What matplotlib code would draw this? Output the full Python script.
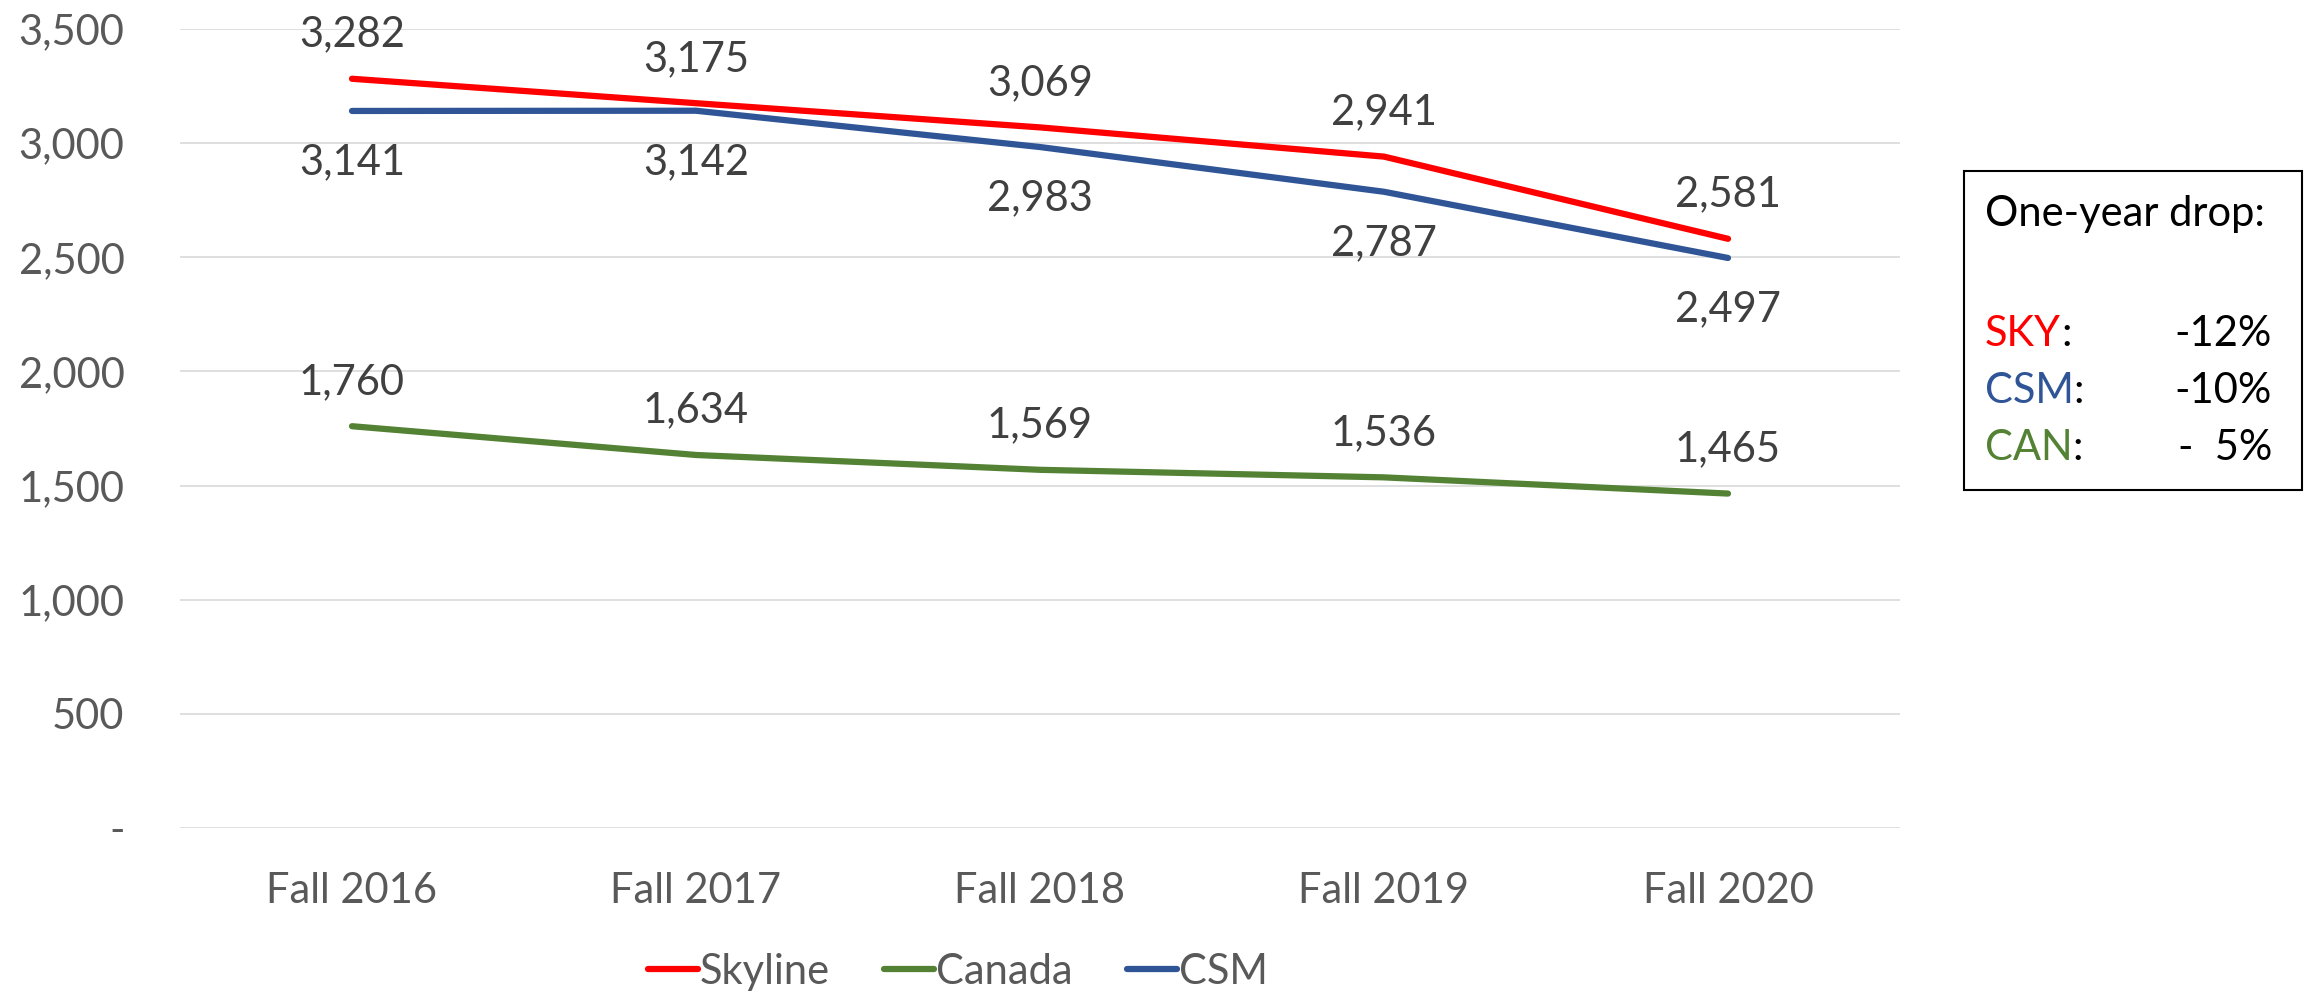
import matplotlib
matplotlib.use("Agg")
import matplotlib.pyplot as plt
from matplotlib.patches import Rectangle
from matplotlib.ticker import FuncFormatter, MultipleLocator

# ---- data ----
categories = ["Fall 2016", "Fall 2017", "Fall 2018", "Fall 2019", "Fall 2020"]
skyline = [3282, 3175, 3069, 2941, 2581]
canada = [1760, 1634, 1569, 1536, 1465]
csm = [3141, 3142, 2983, 2787, 2497]
series_names = ["Skyline", "Canada", "CSM"]
box_title = "One-year drop:"
box_codes = ["SKY", "CSM", "CAN"]
box_values = ["-12%", "-10%", "-  5%"]

RED = "#FF0000"
GREEN = "#548235"
BLUE = "#2F5597"

plt.rcParams["font.family"] = ["Lato", "DejaVu Sans"]
FS = 30

W, H = 2304, 994
fig = plt.figure(figsize=(W / 100, H / 100), dpi=100)

def fx(px):
    return px / W

def fy(py):
    return 1 - py / H

ax = fig.add_axes([fx(180), fy(828), (1900 - 180) / W, (828 - 29) / H])
x = list(range(len(categories)))

l1, = ax.plot(x, skyline, color=RED, lw=4.5, solid_capstyle="round", zorder=4, label=series_names[0])
l2, = ax.plot(x, canada, color=GREEN, lw=4.5, solid_capstyle="round", zorder=3, label=series_names[1])
l3, = ax.plot(x, csm, color=BLUE, lw=4.5, solid_capstyle="round", zorder=3, label=series_names[2])

ax.set_xlim(-0.5, len(categories) - 0.5)
ax.set_ylim(0, 3500)
ax.yaxis.set_major_locator(MultipleLocator(500))
ax.yaxis.set_major_formatter(FuncFormatter(lambda v, p: "-" if v == 0 else f"{int(v):,}"))
ax.set_xticks(x)
ax.set_xticklabels(categories)
ax.grid(axis="y", color="#D9D9D9", lw=1.2)
ax.set_axisbelow(True)
for s in ax.spines.values():
    s.set_visible(False)
ax.tick_params(axis="both", length=0, labelsize=FS, labelcolor="#595959")
ax.tick_params(axis="y", pad=40)
ax.tick_params(axis="x", pad=32)

LBL = "#404040"
for xi, v in zip(x, skyline):
    ax.annotate(f"{v:,}", (xi, v), xytext=(0, 32), textcoords="offset points",
                ha="center", va="center", fontsize=FS, color=LBL)
for xi, v in zip(x, canada):
    ax.annotate(f"{v:,}", (xi, v), xytext=(0, 32), textcoords="offset points",
                ha="center", va="center", fontsize=FS, color=LBL)
for xi, v in zip(x, csm):
    ax.annotate(f"{v:,}", (xi, v), xytext=(0, -37), textcoords="offset points",
                ha="center", va="center", fontsize=FS, color=LBL)

leg = fig.legend(handles=[l1, l2, l3], loc="center", bbox_to_anchor=(fx(958), fy(972)),
                 ncol=3, frameon=False, fontsize=FS, handlelength=1.2, handletextpad=0.05,
                 columnspacing=1.3, borderpad=0)
for t in leg.get_texts():
    t.set_color("#595959")

# ---- annotation box ----
box = Rectangle((fx(1964), fy(490)), (2302 - 1964) / W, (490 - 171) / H,
                transform=fig.transFigure, fill=False, edgecolor="black", lw=1.5)
fig.add_artist(box)
fig.text(fx(1985), fy(214), box_title, fontsize=FS, color="black", ha="left", va="center")
row_y = [334, 391, 448]
row_colors = [RED, BLUE, GREEN]
for code, val, yy, c in zip(box_codes, box_values, row_y, row_colors):
    t = fig.text(fx(1985), fy(yy), code, fontsize=FS, color=c, ha="left", va="center")
    ann = matplotlib.text.Annotation(":", xy=(1, 0.5), xycoords=t, ha="left", va="center",
                                     fontsize=FS, color="black")
    fig.add_artist(ann)
    fig.text(fx(2272), fy(yy), val, fontsize=FS, color="black", ha="right", va="center")

fig.savefig("out.png", dpi=100)
